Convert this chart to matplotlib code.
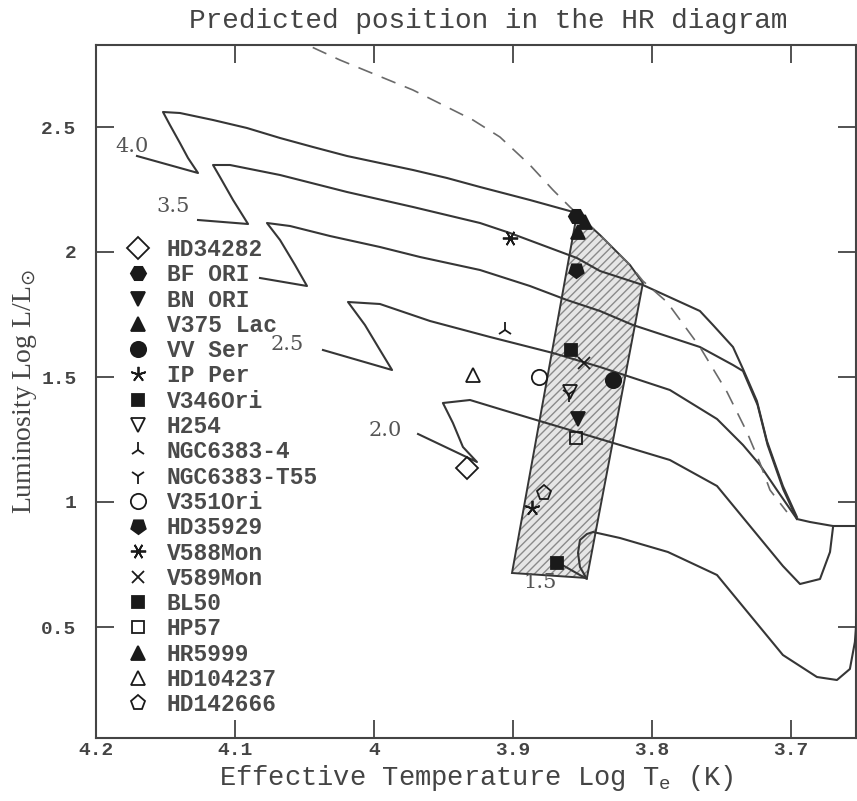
import matplotlib
matplotlib.use('Agg')
import matplotlib.pyplot as plt
from matplotlib.patches import Polygon
from matplotlib.ticker import FixedLocator, FuncFormatter

# ---------------- data ----------------
# evolutionary tracks (log Te, log L)
t40_logT = [4.1705, 4.1266, 4.1338, 4.1396, 4.1468, 4.1518, 4.1396, 4.1158, 4.0914, 4.0676, 4.0439,
            4.0194, 3.9957, 3.9719, 3.9475, 3.9237, 3.8878, 3.8540]
t40_logL = [2.384, 2.316, 2.376, 2.436, 2.508, 2.560, 2.556, 2.528, 2.496, 2.456, 2.420,
            2.384, 2.356, 2.328, 2.296, 2.260, 2.208, 2.156]

t35_logT = [4.1266, 4.0906, 4.1014, 4.1108, 4.1158, 4.1036, 4.0676, 4.0194, 3.9719, 3.9237, 3.9022,
            3.8540, 3.8374, 3.8065, 3.7655, 3.7561, 3.7417, 3.7345, 3.7245, 3.7173, 3.7058, 3.6957]
t35_logL = [2.128, 2.112, 2.208, 2.300, 2.348, 2.348, 2.308, 2.240, 2.180, 2.116, 2.076,
            1.976, 1.924, 1.868, 1.764, 1.708, 1.620, 1.532, 1.404, 1.244, 1.064, 0.940]

t30_logT = [4.0820, 4.0482, 4.0568, 4.0676, 4.0770, 4.0604, 4.0317, 3.9957, 3.9669, 3.9237, 3.8878,
            3.8612, 3.8374, 3.8137, 3.7655, 3.7417, 3.7345, 3.7240, 3.7168, 3.7055, 3.6957]
t30_logL = [1.896, 1.864, 1.948, 2.048, 2.116, 2.104, 2.064, 2.020, 1.980, 1.928, 1.864,
            1.808, 1.764, 1.708, 1.620, 1.548, 1.524, 1.388, 1.228, 1.050, 0.932]

t25_logT = [4.0367, 3.9870, 3.9957, 4.0065, 4.0187, 3.9957, 3.9597, 3.9165, 3.8712, 3.8374, 3.7871,
            3.7532, 3.7345, 3.7223, 3.7101, 3.6957, 3.6863, 3.6698, 3.6532]
t25_logL = [1.608, 1.528, 1.608, 1.708, 1.800, 1.792, 1.724, 1.660, 1.596, 1.540, 1.448,
            1.332, 1.228, 1.148, 1.048, 0.932, 0.920, 0.904, 0.904]

t20_logT = [3.9683, 3.9259, 3.9360, 3.9432, 3.9504, 3.9309, 3.9072, 3.8784, 3.8518, 3.8230, 3.7871,
            3.7532, 3.7295, 3.7058, 3.6935, 3.6791, 3.6719, 3.6698]
t20_logL = [1.272, 1.160, 1.220, 1.316, 1.396, 1.408, 1.368, 1.320, 1.276, 1.228, 1.168,
            1.064, 0.904, 0.744, 0.672, 0.692, 0.800, 0.896]

t15_logT = [3.8683, 3.8468, 3.8518, 3.8532, 3.8518, 3.8468, 3.8424, 3.8230, 3.7885, 3.7532, 3.7295,
            3.7058, 3.6813, 3.6669, 3.6576, 3.6540, 3.6518]
t15_logL = [0.760, 0.692, 0.740, 0.796, 0.848, 0.872, 0.880, 0.856, 0.800, 0.708, 0.548,
            0.388, 0.300, 0.288, 0.332, 0.440, 0.608]

# track mass labels
mass_labels = ['4.0', '3.5', '2.5', '2.0', '1.5']
mass_label_logT = [4.174, 4.1446, 4.0626, 3.992, 3.8806]
mass_label_logL = [2.424, 2.184, 1.632, 1.288, 0.680]

# birthline (dashed)
birth_logT = [4.0604, 4.0245, 3.9720, 3.9288, 3.9094, 3.8878, 3.8712, 3.8590, 3.8374, 3.8158,
              3.8065, 3.7892, 3.7655, 3.7460, 3.7317, 3.7223, 3.7151, 3.7029]
birth_logL = [2.860, 2.768, 2.648, 2.528, 2.460, 2.348, 2.248, 2.180, 2.068, 1.948,
              1.884, 1.800, 1.620, 1.440, 1.280, 1.156, 1.048, 0.960]

# instability strip
strip_logT = [3.8540, 3.8374, 3.8158, 3.8065, 3.8468, 3.9007]
strip_logL = [2.152, 2.068, 1.948, 1.876, 0.696, 0.716]

# stars
star_names = ['HD34282', 'BF ORI', 'BN ORI', 'V375 Lac', 'VV Ser', 'IP Per', 'V346Ori', 'H254',
              'NGC6383-4', 'NGC6383-T55', 'V351Ori', 'HD35929', 'V588Mon', 'V589Mon', 'BL50',
              'HP57', 'HR5999', 'HD104237', 'HD142666']
star_logT = [3.933, 3.855, 3.853, 3.848, 3.828, 3.886, 3.858, 3.859, 3.906, 3.860, 3.881,
             3.855, 3.902, 3.849, 3.868, 3.855, 3.853, 3.929, 3.878]
star_logL = [1.136, 2.144, 1.332, 2.120, 1.488, 0.976, 1.608, 1.440, 1.688, 1.432, 1.500,
             1.928, 2.056, 1.556, 0.756, 1.256, 2.080, 1.508, 1.036]
star_marker = ['D', 'H', 'v', '^', 'o', (5, 2, 0), 's', 'v', '2', '1', 'o',
               (5, 0, 180), (6, 2, 90), 'x', 's', 's', '^', '^', 'p']
star_filled = [False, True, True, True, True, True, True, False, True, True, False,
               True, True, True, True, False, True, False, False]
star_size = [11, 11, 10, 10, 11, 11, 9, 10, 11, 11, 11, 11, 11, 9, 9, 9, 10, 10, 11]

x_ticks = [4.2, 4.1, 4.0, 3.9, 3.8, 3.7]
y_ticks = [0.5, 1.0, 1.5, 2.0, 2.5]

# ---------------- plot ----------------
W, H = 857, 801
fig = plt.figure(figsize=(W / 100, H / 100), dpi=100)
ax = fig.add_axes([96 / W, (H - 738) / H, 760 / W, (738 - 45) / H])

line_c = '#363636'
ax.add_patch(Polygon(list(zip(strip_logT, strip_logL)), closed=True, facecolor='#e6e6e6',
                     edgecolor='#8a8a8a', hatch='////', linewidth=0, zorder=1))
ax.add_patch(Polygon(list(zip(strip_logT, strip_logL)), closed=True, facecolor='none',
                     edgecolor=line_c, linewidth=1.4, zorder=2))

for tx, ty in [(t40_logT, t40_logL), (t35_logT, t35_logL), (t30_logT, t30_logL),
               (t25_logT, t25_logL), (t20_logT, t20_logL), (t15_logT, t15_logL)]:
    ax.plot(tx, ty, color=line_c, lw=1.5, zorder=3, solid_joinstyle='round')

ax.plot(birth_logT, birth_logL, color='#6a6a6a', lw=1.2, dashes=(9, 6), zorder=3)

for lab, lx, ly in zip(mass_labels, mass_label_logT, mass_label_logL):
    ax.text(lx, ly, lab, fontsize=15, family='DejaVu Serif', color='#555555',
            ha='center', va='center', zorder=4)

for name, sx, sy, mk, fl, ms in zip(star_names, star_logT, star_logL, star_marker,
                                    star_filled, star_size):
    ax.plot([sx], [sy], linestyle='none', marker=mk, markersize=ms,
            markerfacecolor='#1a1a1a' if fl else 'none', markeredgecolor='#1a1a1a',
            markeredgewidth=1.3, label=name, zorder=5)

ax.set_xlim(4.2, 3.6532)
ax.set_ylim(0.056, 2.828)

ax.xaxis.set_major_locator(FixedLocator(x_ticks))
ax.yaxis.set_major_locator(FixedLocator(y_ticks))
fmt = FuncFormatter(lambda v, p: '%g' % v)
ax.xaxis.set_major_formatter(fmt)
ax.yaxis.set_major_formatter(fmt)
ax.tick_params(direction='in', length=13, width=1.3, top=True, right=True,
               colors='#444444', labelsize=14)
ax.tick_params(axis='x', pad=3)
ax.tick_params(axis='y', pad=14)
for lbl in ax.get_xticklabels() + ax.get_yticklabels():
    lbl.set_family('Liberation Mono')
    lbl.set_weight('bold')
for s in ax.spines.values():
    s.set_linewidth(1.5)
    s.set_color('#444444')

ax.set_title('Predicted position in the HR diagram', family='Liberation Mono',
             fontsize=20, color='#444444', pad=12, x=0.516)
ax.set_xlabel(r'Effective Temperature Log T$_{\mathregular{e}}$ (K)', family='Liberation Mono',
              fontsize=19.5, color='#444444', labelpad=3)
ax.set_ylabel(r'Luminosity Log L/L$_{\odot}$', family='Liberation Serif',
              fontsize=20, color='#444444', labelpad=2)

leg = ax.legend(loc='upper left', bbox_to_anchor=(0.040, 0.7215), frameon=False,
                borderpad=0, borderaxespad=0, handlelength=1.0, handletextpad=0.75,
                labelspacing=0.1, numpoints=1,
                prop={'family': 'Liberation Mono', 'weight': 'bold', 'size': 16.5},
                labelcolor='#4a4a4a')

fig.savefig('out.png', dpi=100)
